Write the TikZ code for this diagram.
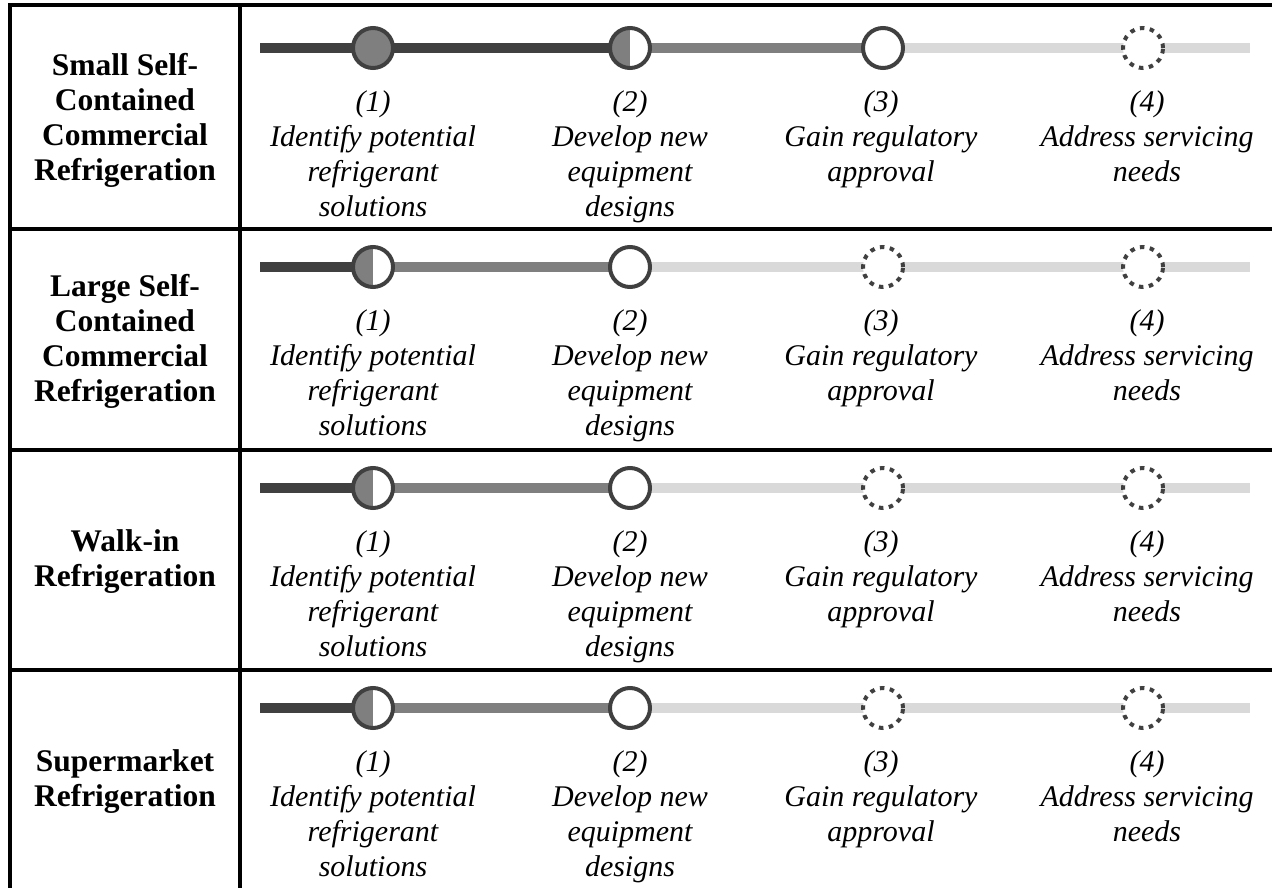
\documentclass[tikz,border=0pt]{standalone}
\usepackage{fontspec}
\setmainfont{Liberation Serif}
\usetikzlibrary{backgrounds}
\definecolor{dk}{HTML}{404040}
\definecolor{md}{HTML}{7F7F7F}
\definecolor{lt}{HTML}{D9D9D9}
\begin{document}
\begin{tikzpicture}[x=1pt,y=-1pt,
  grid/.style={line width=3.5pt,black},
  track/.style={line width=10pt},
  stage/.style={circle,minimum size=40pt,inner sep=0pt,line width=4pt,draw=dk,fill=white},
  stagedone/.style={stage,fill=md},
  stagehalf/.style={stage,path picture={\fill[md] (path picture bounding box.south west) rectangle (path picture bounding box.north);}},
  stageopen/.style={stage},
  stagetodo/.style={stage,dash pattern=on 4.5pt off 5.5pt},
  steptext/.style={font=\itshape\fontsize{30}{35}\selectfont,align=center,anchor=north,inner sep=0pt},
  rowlabel/.style={font=\bfseries\fontsize{31.5}{35}\selectfont,align=center,inner sep=0pt}]
\useasboundingbox (0,0) rectangle (1272,888);
% table grid
\begin{scope}
  \clip (0,0) rectangle (1272,888);
  \draw[grid] (10,5) rectangle (1300,920);
  \draw[grid] (240,5) -- (240,920);
  \draw[grid] (10,229) -- (1300,229);
  \draw[grid] (10,450) -- (1300,450);
  \draw[grid] (10,670) -- (1300,670);
\end{scope}
% row labels
\node[rowlabel] (l1) at (125,120) {Small Self-\\Contained\\Commercial\\Refrigeration};
\node[rowlabel] (l2) at (125,341) {Large Self-\\Contained\\Commercial\\Refrigeration};
\node[rowlabel] (l3) at (125,562) {Walk-in\\Refrigeration};
\node[rowlabel] (l4) at (125,782) {Supermarket\\Refrigeration};
% row 1 track
\coordinate (s1) at (260,48);
\coordinate (e1) at (1250,48);
\node[stagedone] (a1) at (373,48) {};
\node[stagehalf] (b1) at (630,48) {};
\node[stageopen] (c1) at (883,48) {};
\node[stagetodo] (d1) at (1143,48) {};
\begin{scope}[on background layer]
  \draw[track,dk] (s1) -- (b1.center);
  \draw[track,md] (b1.center) -- (c1.center);
  \draw[track,lt] (c1.center) -- (e1);
\end{scope}
% rows 2-4 tracks
\foreach \r/\y in {2/267,3/488,4/708}{
  \coordinate (s\r) at (260,\y);
  \coordinate (e\r) at (1250,\y);
  \node[stagehalf] (a\r) at (373,\y) {};
  \node[stageopen] (b\r) at (630,\y) {};
  \node[stagetodo] (c\r) at (883,\y) {};
  \node[stagetodo] (d\r) at (1143,\y) {};
  \begin{scope}[on background layer]
    \draw[track,dk] (s\r) -- (a\r.center);
    \draw[track,md] (a\r.center) -- (b\r.center);
    \draw[track,lt] (b\r.center) -- (e\r);
  \end{scope}
}
% step texts
\foreach \r/\y in {1/48,2/267,3/488,4/708}{
  \node[steptext] (ta\r) at (373,\y+42) {(1)\\Identify potential\\refrigerant\\solutions};
  \node[steptext] (tb\r) at (630,\y+42) {(2)\\Develop new\\equipment\\designs};
  \node[steptext] (tc\r) at (881,\y+42) {(3)\\Gain regulatory\\approval};
  \node[steptext] (td\r) at (1147,\y+42) {(4)\\Address servicing\\needs};
}
\end{tikzpicture}
\end{document}
